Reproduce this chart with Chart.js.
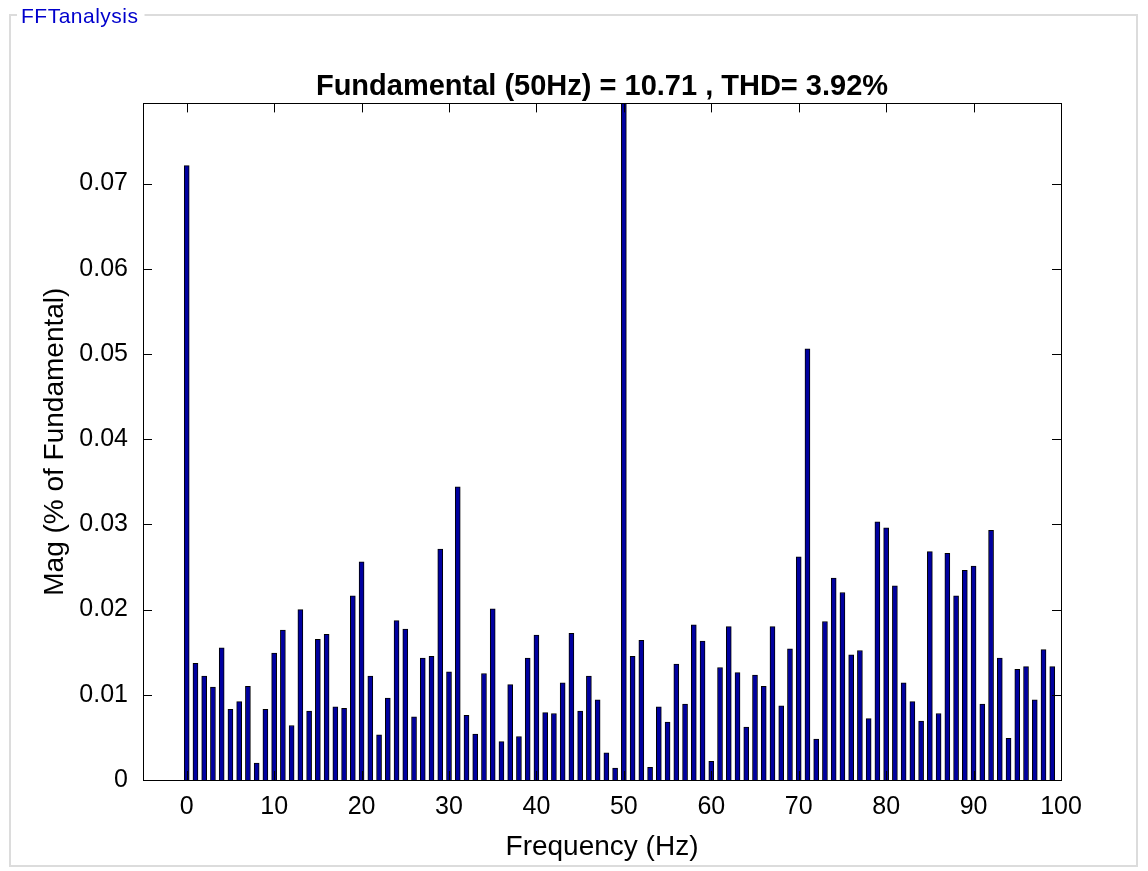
<!DOCTYPE html>
<html>
<head>
<meta charset="utf-8">
<title>FFT analysis</title>
<script src="https://cdn.jsdelivr.net/npm/chart.js@4.4.1/dist/chart.umd.min.js"></script>
<style>
  html, body { margin: 0; padding: 0; background: #fff; }
  #wrap { width: 1148px; height: 871px; position: relative; }
</style>
</head>
<body>
<div id="wrap"><canvas id="fft"></canvas></div>
<script>
// Harmonic frequencies (Hz)
const freqs = [
  0, 1, 2, 3, 4, 5, 6, 7, 8, 9,
  10, 11, 12, 13, 14, 15, 16, 17, 18, 19,
  20, 21, 22, 23, 24, 25, 26, 27, 28, 29,
  30, 31, 32, 33, 34, 35, 36, 37, 38, 39,
  40, 41, 42, 43, 44, 45, 46, 47, 48, 49,
  50, 51, 52, 53, 54, 55, 56, 57, 58, 59,
  60, 61, 62, 63, 64, 65, 66, 67, 68, 69,
  70, 71, 72, 73, 74, 75, 76, 77, 78, 79,
  80, 81, 82, 83, 84, 85, 86, 87, 88, 89,
  90, 91, 92, 93, 94, 95, 96, 97, 98, 99
];

// Magnitude in % of fundamental (fundamental = 100, clipped by the axis)
const mags = [
  0.0721, 0.0137, 0.0122, 0.0109, 0.0155, 0.0083, 0.0092, 0.0110, 0.0020, 0.0083,
  0.0149, 0.0176, 0.0064, 0.0200, 0.0081, 0.0165, 0.0171, 0.0086, 0.0084, 0.0216,
  0.0256, 0.0122, 0.0053, 0.0096, 0.0187, 0.0177, 0.0074, 0.0143, 0.0145, 0.0271,
  0.0127, 0.0344, 0.0076, 0.0054, 0.0125, 0.0201, 0.0045, 0.0112, 0.0051, 0.0143,
  0.0170, 0.0079, 0.0078, 0.0114, 0.0172, 0.0081, 0.0122, 0.0094, 0.0032, 0.0014,
  100,    0.0145, 0.0164, 0.0015, 0.0086, 0.0068, 0.0136, 0.0089, 0.0182, 0.0163,
  0.0022, 0.0132, 0.0180, 0.0126, 0.0062, 0.0123, 0.0110, 0.0180, 0.0087, 0.0154,
  0.0262, 0.0506, 0.0048, 0.0186, 0.0237, 0.0220, 0.0147, 0.0152, 0.0072, 0.0303,
  0.0296, 0.0228, 0.0114, 0.0092, 0.0069, 0.0268, 0.0078, 0.0266, 0.0216, 0.0246,
  0.0251, 0.0089, 0.0293, 0.0143, 0.0049, 0.0130, 0.0133, 0.0094, 0.0153, 0.0133
];

const xTicks = [0, 10, 20, 30, 40, 50, 60, 70, 80, 90, 100];
const yTicks = [0, 0.01, 0.02, 0.03, 0.04, 0.05, 0.06, 0.07];

const titleText = "Fundamental (50Hz) = 10.71 , THD= 3.92%";
const panelText = "FFTanalysis";

Chart.defaults.font.family = "'Liberation Sans', Arial, sans-serif";
Chart.defaults.color = "#000";

// Panel frame, axes box and inward tick marks (MATLAB look)
const matlabFrame = {
  id: "matlabFrame",
  beforeDraw(chart) {
    const ctx = chart.ctx;
    ctx.save();
    ctx.fillStyle = "#fff";
    ctx.fillRect(0, 0, chart.width, chart.height);
    ctx.strokeStyle = "#dcdcdc";
    ctx.lineWidth = 2;
    ctx.strokeRect(10, 15, 1127, 851);
    ctx.font = "21px 'Liberation Sans', Arial, sans-serif";
    ctx.letterSpacing = "0.5px";
    const w = ctx.measureText(panelText).width;
    ctx.fillStyle = "#fff";
    ctx.fillRect(17, 4, w + 10, 22);
    ctx.fillStyle = "#0000cc";
    ctx.textBaseline = "alphabetic";
    ctx.fillText(panelText, 21, 23);
    ctx.restore();
  },
  afterDatasetsDraw(chart) {
    const { ctx, chartArea: a, scales } = chart;
    const len = 9;
    ctx.save();
    ctx.strokeStyle = "#000";
    ctx.lineWidth = 1;
    ctx.beginPath();
    scales.x.ticks.forEach(t => {
      const px = Math.round(scales.x.getPixelForValue(t.value)) + 0.5;
      ctx.moveTo(px, a.bottom); ctx.lineTo(px, a.bottom - len);
      ctx.moveTo(px, a.top); ctx.lineTo(px, a.top + len);
    });
    scales.y.ticks.forEach(t => {
      const py = Math.round(scales.y.getPixelForValue(t.value)) + 0.5;
      ctx.moveTo(a.left, py); ctx.lineTo(a.left + len, py);
      ctx.moveTo(a.right, py); ctx.lineTo(a.right - len, py);
    });
    ctx.stroke();
    ctx.strokeRect(Math.round(a.left) + 0.5, Math.round(a.top) + 0.5,
      Math.round(a.right - a.left), Math.round(a.bottom - a.top));
    ctx.restore();
  }
};

new Chart(document.getElementById("fft"), {
  type: "bar",
  data: {
    datasets: [{
      data: freqs.map((f, i) => ({ x: f, y: mags[i] })),
      backgroundColor: "#0000a0",
      borderColor: "#000",
      borderWidth: 1,
      barThickness: 5
    }]
  },
  options: {
    responsive: true,
    maintainAspectRatio: false,
    devicePixelRatio: 1,
    animation: false,
    layout: { padding: { left: 0, right: 87, top: 0, bottom: 0 } },
    plugins: {
      legend: { display: false },
      tooltip: { enabled: false },
      title: {
        display: true,
        fullSize: false,
        text: titleText,
        font: { size: 29, weight: "bold", lineHeight: 1.1 },
        padding: { top: 71.5, bottom: 0 }
      }
    },
    scales: {
      x: {
        type: "linear",
        min: -5,
        max: 100,
        offset: false,
        grid: { display: false, drawTicks: false, offset: false },
        border: { display: false },
        afterBuildTicks: s => { s.ticks = xTicks.map(v => ({ value: v })); },
        afterFit: s => { s.height = 91; },
        ticks: { font: { size: 25 }, padding: 12, maxRotation: 0, callback: v => String(v) },
        title: {
          display: true,
          text: "Frequency (Hz)",
          font: { size: 28 },
          padding: { top: 0, bottom: 7 }
        }
      },
      y: {
        min: 0,
        max: 0.0794,
        grid: { display: false, drawTicks: false },
        border: { display: false },
        afterBuildTicks: s => { s.ticks = yTicks.map(v => ({ value: v })); },
        afterFit: s => { s.width = 143; },
        ticks: { font: { size: 25 }, padding: 15, callback: v => v === 0 ? "0" : v.toFixed(2) },
        title: {
          display: true,
          text: "Mag (% of Fundamental)",
          font: { size: 28 },
          padding: { top: 38, bottom: 0 }
        }
      }
    }
  },
  plugins: [matlabFrame]
});
</script>
</body>
</html>
